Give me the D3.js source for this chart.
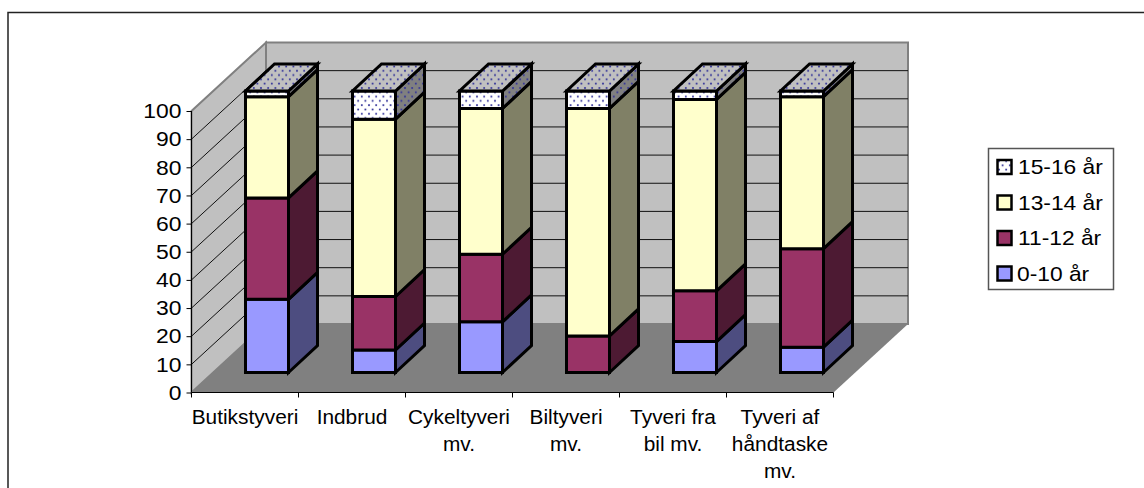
<!DOCTYPE html>
<html><head><meta charset="utf-8"><script src="https://cdn.jsdelivr.net/npm/d3@7"></script>
<style>html,body{margin:0;background:#fff}svg{display:block}text{font-family:"Liberation Sans",Arial,sans-serif;fill:#000}</style></head>
<body><svg id="c" width="1144" height="488"></svg>
<script>
const categories=[["Butikstyveri"],["Indbrud"],["Cykeltyveri","mv."],["Biltyveri","mv."],["Tyveri fra","bil mv."],["Tyveri af","håndtaske","mv."]];
const seriesNames=["0-10 år","11-12 år","13-14 år","15-16 år"];
const v0=[26,8,18,0,11,9];
const v1=[36,19,24,13,18,35];
const v2=[36,63,51.8,80.8,68,54];
const v3=[2,10,6.2,6.2,3,2];
const seriesValues=[v0,v1,v2,v3];
const yTicks=[0,10,20,30,40,50,60,70,80,90,100];
const frontC=["#9999FF","#993366","#FFFFCC","url(#pF)"];
const sideC=["#4D4D80","#4D1A33","#808066","url(#pS)"];
const svg=d3.select("#c");
const defs=svg.append("defs");
[["pF","#fff"],["pS","#808080"],["pT","#c0c0c0"]].forEach(([id,bg])=>{
 const p=defs.append("pattern").attr("id",id).attr("patternUnits","userSpaceOnUse").attr("width",7.2).attr("height",8.6);
 p.append("rect").attr("width",8).attr("height",9).attr("fill",bg);
 p.append("circle").attr("cx",1.8).attr("cy",2).attr("r",1).attr("fill","#333399");
 p.append("circle").attr("cx",5.4).attr("cy",6.3).attr("r",1).attr("fill","#333399");
});
svg.append("path").attr("d","M8,500V12.5H1150").attr("fill","none").attr("stroke","#222").attr("stroke-width",1.5);
const y=d3.scaleLinear().domain([0,100]).range([392.5,111]);
const x=d3.scaleBand().domain(d3.range(6)).range([191.5,833.5]);
const DX=74.5,DY=-68.5;
const poly=(pts,fill,stroke,sw)=>svg.append("polygon").attr("points",pts.map(p=>p.join(",")).join(" ")).attr("fill",fill).attr("stroke",stroke||"none").attr("stroke-width",sw||0).attr("stroke-linejoin","miter");
const x0=x.range()[0],x1=x.range()[1],yB=y(0),yT=y(100);
const stretched=(sel,sx,px,py)=>sel.attr("transform",`translate(${px},${py}) scale(${sx},1)`);
// walls and floor
poly([[x0,yB],[x0+DX,yB+DY],[x0+DX,yT+DY],[x0,yT]],"#c0c0c0","#808080",2);
poly([[x0+DX,yB+DY],[x1+DX,yB+DY],[x1+DX,yT+DY],[x0+DX,yT+DY]],"#c0c0c0","#808080",2);
// gridlines
yTicks.slice(1,-1).forEach(t=>{
 svg.append("path").attr("d",`M${x0},${y(t)}L${x0+DX},${y(t)+DY}H${x1+DX}`).attr("fill","none").attr("stroke","#111").attr("stroke-width",1);
});
poly([[x0,yB],[x1,yB],[x1+DX,yB+DY],[x0+DX,yB+DY]],"#808080");
// axes
const ax=svg.append("g").attr("transform",`translate(${x0},0)`).call(d3.axisLeft(y).tickValues(yTicks).tickSize(5).tickPadding(5));
ax.select(".domain").attr("d",`M0,${yT}V${yB}`).attr("stroke","#000");
ax.selectAll("text").attr("font-size",21).style("font-family",'"Liberation Sans",Arial,sans-serif')
  .attr("transform","translate(-10,0) scale(1.09,1) translate(10,0)");
svg.append("path").attr("d",`M${x0},${yB}H${x1}`).attr("stroke","#000").attr("fill","none");
d3.range(7).forEach(i=>{const px=x0+i*x.step();svg.append("path").attr("d",`M${px},${yB}v5`).attr("stroke","#000");});
categories.forEach((lines,i)=>{
 lines.forEach((l,j)=>{
  const t=svg.append("text").attr("text-anchor","middle").attr("font-size",19.5).text(l);
  stretched(t,1.07,x(i)+x.step()/2,423.5+j*27);
 });
});
// bars
const offF=22,offFy=-20,dD=29,dDy=-27,w=43;
const yF=v=>y(v)+offFy;
d3.range(6).forEach(i=>{
 const xl=x(i)+x.step()/2-w/2+offF,xr=xl+w;
 let acc=0;
 seriesValues.forEach((vals,s)=>{
  const v=vals[i]; if(!v) return;
  const a=yF(acc),b=yF(acc+v);acc+=v;
  poly([[xr,a],[xr+dD,a+dDy],[xr+dD,b+dDy],[xr,b]],sideC[s],"#000",3);
  poly([[xl,a],[xr,a],[xr,b],[xl,b]],frontC[s],"#000",3);
  if(s===3) poly([[xl,b],[xr,b],[xr+dD,b+dDy],[xl+dD,b+dDy]],"url(#pT)","#000",3);
 });
});
// legend
svg.append("rect").attr("x",988.5).attr("y",148.5).attr("width",125).attr("height",141).attr("fill","#fff").attr("stroke","#555").attr("stroke-width",1.5);
[3,2,1,0].forEach((s,k)=>{
 const cy=167+k*35.5;
 svg.append("rect").attr("x",997.5).attr("y",cy-7).attr("width",14).attr("height",14).attr("fill",frontC[s]).attr("stroke","#000").attr("stroke-width",2.5);
 const t=svg.append("text").attr("font-size",20).text(seriesNames[s]);
 stretched(t,1.14,s===0?1017:1018,cy+7);
});
</script></body></html>
